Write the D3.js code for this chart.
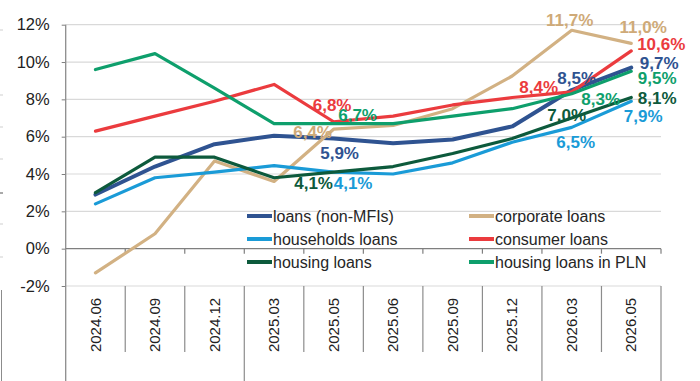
<!DOCTYPE html>
<html>
<head>
<meta charset="utf-8">
<script src="https://cdn.jsdelivr.net/npm/d3@7"></script>
<style>
  html, body { margin: 0; padding: 0; background: #ffffff; }
  svg { display: block; }
  text { font-family: "Liberation Sans", Arial, sans-serif; }
</style>
</head>
<body>
<svg id="chart" width="700" height="381"></svg>
<script>
// ---- data ----
const categories = ["2024.06","2024.09","2024.12","2025.03","2025.05","2025.06","2025.09","2025.12","2026.03","2026.05"];
const yTicks = [-2, 0, 2, 4, 6, 8, 10, 12];

const loansNonMFI   = [2.9, 4.4, 5.6, 6.05, 5.9, 5.65, 5.85, 6.55, 8.5, 9.7];
const corporate     = [-1.3, 0.8, 4.7, 3.6, 6.4, 6.6, 7.5, 9.25, 11.7, 11.0];
const households    = [2.4, 3.8, 4.1, 4.45, 4.1, 4.0, 4.6, 5.7, 6.5, 7.9];
const consumer      = [6.3, 7.1, 7.9, 8.8, 6.8, 7.1, 7.7, 8.1, 8.4, 10.6];
const housing       = [3.0, 4.9, 4.9, 3.8, 4.1, 4.4, 5.1, 5.9, 7.0, 8.1];
const housingPLN    = [9.6, 10.45, 8.6, 6.7, 6.7, 6.7, 7.1, 7.5, 8.3, 9.5];

const seriesNames = ["loans (non-MFIs)","corporate loans","households loans","consumer loans","housing loans","housing loans in PLN"];
const seriesValues = [loansNonMFI, corporate, households, consumer, housing, housingPLN];

// ---- styles ----
const colors = ["#2F5391", "#D2B183", "#1A9BD7", "#EB3B3E", "#0D5A3C", "#0E9F6C"];
const labelColors = ["#2F5391", "#CFAA78", "#1A9BD7", "#EB3B3E", "#0D5A3C", "#0E9F6C"];
const widths = [4, 3.2, 3.2, 3.2, 3.2, 3.2];

// data labels: [series index, category index, dx, dy]
const labelSpec = [
  [0, 4, 6, 14.5], [1, 4, -21, 2.5], [3, 4, -1.5, -17], [5, 4, 24, -8.6],
  [4, 4, -20, 11], [2, 4, 19.5, 11],
  [1, 8, -2, -10], [1, 9, 12, -16], [3, 9, 30, -7], [0, 9, 28, -4.6],
  [5, 9, 26, 6.6], [4, 9, 26, 0], [2, 9, 12, 15],
  [0, 8, 5, -12], [3, 8, -33, -5], [5, 8, 29, 5], [4, 8, -5, -3], [2, 8, 4, 14.6]
];

const svg = d3.select("#chart");
const mLeft = 65.7, mRight = 661, mTop = 24.7, mBottom = 286;

const x = d3.scaleBand().domain(categories).range([mLeft, mRight]).paddingInner(0).paddingOuter(0);
const y = d3.scaleLinear().domain([-2, 12]).range([mBottom, mTop]);
const cx = c => x(c) + x.bandwidth() / 2;

// gridlines
svg.append("g").selectAll("line").data(yTicks.filter(t => t !== 0)).join("line")
  .attr("x1", mLeft).attr("x2", mRight)
  .attr("y1", d => y(d)).attr("y2", d => y(d))
  .attr("stroke", "#d9d9d9").attr("stroke-width", 1.2);

// y axis
const yAxis = d3.axisLeft(y).tickValues(yTicks).tickSize(4).tickPadding(12).tickFormat(d => d + "%");
const gy = svg.append("g").attr("transform", `translate(${mLeft},0)`).call(yAxis);
gy.select(".domain").remove();
gy.selectAll(".tick line").attr("stroke", "#7f7f7f");
gy.selectAll(".tick text").attr("font-size", 16.5).attr("fill", "#222").attr("font-family", "Liberation Sans, Arial, sans-serif");
svg.append("line").attr("x1", mLeft).attr("x2", mLeft).attr("y1", mTop).attr("y2", 381)
  .attr("stroke", "#8c8c8c").attr("stroke-width", 1.3);

// zero line with ticks
svg.append("line").attr("x1", mLeft).attr("x2", mRight).attr("y1", y(0)).attr("y2", y(0))
  .attr("stroke", "#7f7f7f").attr("stroke-width", 1.3);
const boundaries = categories.map(c => x(c)).concat([mRight]);
svg.append("g").selectAll("line").data(boundaries.slice(1)).join("line")
  .attr("x1", d => d).attr("x2", d => d).attr("y1", y(0)).attr("y2", y(0) + 5)
  .attr("stroke", "#7f7f7f").attr("stroke-width", 1.2);

// category axis (multi-level look)
const groupBounds = [x("2025.03"), x("2026.03"), mRight];
svg.append("g").selectAll("line").data(boundaries.slice(1)).join("line")
  .attr("x1", d => d).attr("x2", d => d)
  .attr("y1", mBottom).attr("y2", d => groupBounds.some(g => Math.abs(g - d) < 0.5) ? 381 : 352)
  .attr("stroke", "#8c8c8c").attr("stroke-width", 1.2);

const xAxis = d3.axisBottom(x).tickSize(0).tickPadding(0);
const gx = svg.append("g").attr("transform", `translate(0,${mBottom})`).call(xAxis);
gx.select(".domain").remove();
gx.selectAll(".tick text")
  .attr("transform", "translate(0,39) rotate(-90)")
  .attr("text-anchor", "middle").attr("dy", "0.35em").attr("y", 0)
  .attr("font-size", 15).attr("fill", "#222").attr("font-family", "Liberation Sans, Arial, sans-serif");

// left-edge artifacts (cut-off neighbour axis)
svg.append("line").attr("x1", 1.5).attr("x2", 1.5).attr("y1", 290).attr("y2", 381).attr("stroke", "#8c8c8c").attr("stroke-width", 1);
svg.append("g").selectAll("line").data([30, 95, 127, 159, 224, 257]).join("line")
  .attr("x1", 0).attr("x2", 3).attr("y1", d => d).attr("y2", d => d).attr("stroke", "#cfcfcf").attr("stroke-width", 1);
svg.append("line").attr("x1", 0).attr("x2", 3).attr("y1", 193).attr("y2", 193).attr("stroke", "#555").attr("stroke-width", 1);

// legend
const legendX = [247, 469], legendY = [216, 239, 262];
const lg = svg.append("g");
seriesNames.forEach((name, i) => {
  const lx = legendX[i % 2], ly = legendY[Math.floor(i / 2)];
  lg.append("line").attr("x1", lx).attr("x2", lx + 25).attr("y1", ly).attr("y2", ly)
    .attr("stroke", colors[i]).attr("stroke-width", 4);
  lg.append("text").attr("x", lx + 26).attr("y", ly).attr("dy", "0.35em")
    .attr("font-size", 16).attr("fill", "#262626").text(name);
});

// lines
const line = d3.line().x((d, i) => cx(categories[i])).y(d => y(d));
svg.append("g").selectAll("path").data(seriesValues).join("path")
  .attr("d", d => line(d))
  .attr("fill", "none")
  .attr("stroke", (d, i) => colors[i])
  .attr("stroke-width", (d, i) => widths[i])
  .attr("stroke-linejoin", "round").attr("stroke-linecap", "round");

// data labels
const fmt = v => v.toFixed(1).replace(".", ",") + "%";
svg.append("g").selectAll("text").data(labelSpec).join("text")
  .attr("x", d => cx(categories[d[1]]) + d[2])
  .attr("y", d => y(seriesValues[d[0]][d[1]]) + d[3])
  .attr("dy", "0.36em")
  .attr("text-anchor", "middle")
  .attr("font-size", 17).attr("font-weight", "bold")
  .attr("fill", d => labelColors[d[0]])
  .text(d => fmt(seriesValues[d[0]][d[1]]));
</script>
</body>
</html>
